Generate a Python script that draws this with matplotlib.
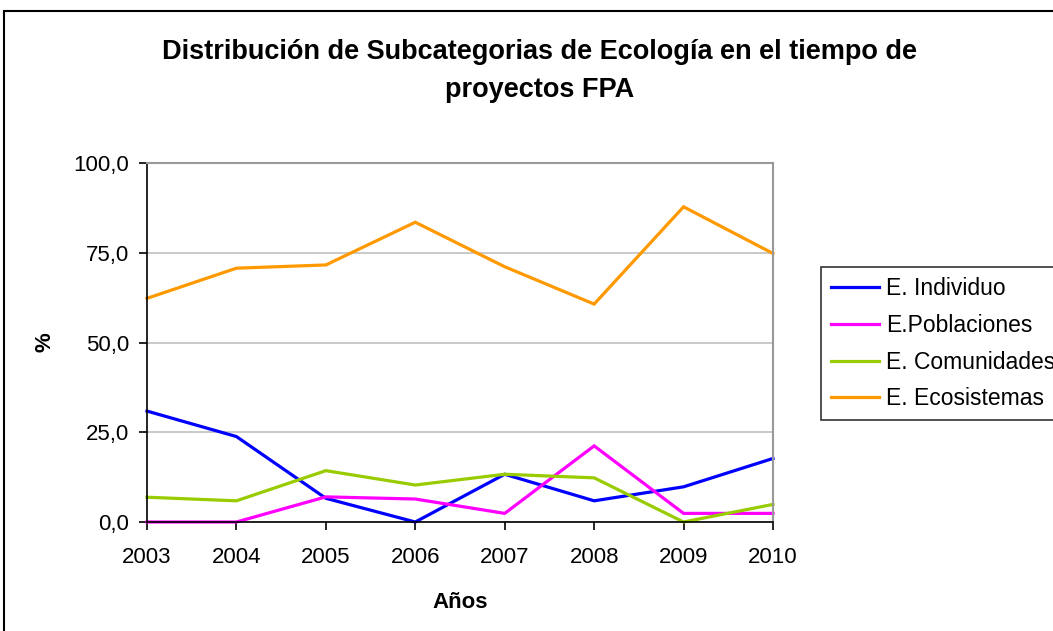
import matplotlib
matplotlib.use("Agg")
import matplotlib.pyplot as plt
from matplotlib.patches import Rectangle
from matplotlib.ticker import FuncFormatter

plt.rcParams['font.family'] = ['Liberation Sans', 'DejaVu Sans']

years = [2003, 2004, 2005, 2006, 2007, 2008, 2009, 2010]
individuo = [30.9, 23.8, 6.6, 0.0, 13.3, 5.9, 9.8, 17.7]
poblaciones = [0.0, 0.0, 7.0, 6.4, 2.4, 21.2, 2.4, 2.4]
comunidades = [6.9, 5.9, 14.3, 10.3, 13.3, 12.3, 0.0, 4.9]
ecosistemas = [62.3, 70.7, 71.6, 83.5, 71.1, 60.7, 87.8, 74.8]
series_names = ['E. Individuo', 'E.Poblaciones', 'E. Comunidades', 'E. Ecosistemas']
series_colors = ['#0000FF', '#FF00FF', '#99CC00', '#FF9900']
yticks = [0, 25, 50, 75, 100]

W, H = 1053, 631
fig = plt.figure(figsize=(W / 100, H / 100), dpi=100)
ax = fig.add_axes([147 / W, 1 - 522 / H, (773 - 147) / W, (522 - 163) / H])

for vals, name, col in zip([individuo, poblaciones, comunidades, ecosistemas], series_names, series_colors):
    ax.plot(years, vals, color=col, lw=2.3, label=name, solid_joinstyle='miter', clip_on=False)

ax.set_xlim(years[0], years[-1])
ax.set_ylim(0, 100)
ax.set_xticks(years)
ax.set_yticks(yticks)
ax.yaxis.set_major_formatter(FuncFormatter(lambda v, p: f"{v:.1f}".replace('.', ',')))
ax.grid(axis='y', color='#c0c0c0', lw=1.2)
ax.set_axisbelow(True)
for s in ['top', 'right']:
    ax.spines[s].set_color('#999999')
    ax.spines[s].set_linewidth(1.5)
for s in ['left', 'bottom']:
    ax.spines[s].set_color('black')
    ax.spines[s].set_linewidth(1.2)
ax.tick_params(direction='out', length=6, width=1.2, labelsize=16)
ax.tick_params(axis='y', pad=7)
ax.tick_params(axis='x', pad=12)

ax.set_xlabel('Años', fontsize=16, fontweight='bold', labelpad=17)
ax.set_ylabel('%', fontsize=16, fontweight='bold', labelpad=13)

fig.text(540 / W, 1 - 52 / H, 'Distribución de Subcategorias de Ecología en el tiempo de',
         ha='center', va='center', fontsize=19.5, fontweight='bold')
fig.text(540 / W, 1 - 90 / H, 'proyectos FPA',
         ha='center', va='center', fontsize=19.5, fontweight='bold')

leg = fig.legend(loc='upper left', bbox_to_anchor=(821 / W, 1 - 267 / H), fontsize=16.5,
                 frameon=True, fancybox=False, edgecolor='black', handlelength=2.1,
                 handletextpad=0.3, labelspacing=0.6, borderpad=0.44, borderaxespad=0)
leg.get_frame().set_linewidth(1.2)
for line in leg.get_lines():
    line.set_linewidth(2.3)

fig.patches.append(Rectangle((4 / W, -0.1), 1.2, 1 - 11 / H + 0.1, transform=fig.transFigure,
                             fill=False, edgecolor='black', lw=1.5))

fig.savefig('out.png', dpi=100)
